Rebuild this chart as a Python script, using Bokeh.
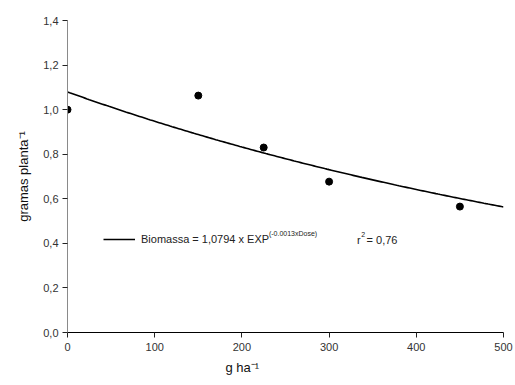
import numpy as np
from bokeh.plotting import figure
from bokeh.models import (LinearAxis, FixedTicker, CustomJSTickFormatter, Label,
                          Legend, LegendItem, Title)
from bokeh.embed import file_html
from bokeh.resources import INLINE

# data
dose = [0, 150, 225, 300, 450]
biomassa = [1.0, 1.063, 0.83, 0.677, 0.565]
coef_a = 1.0794
coef_b = -0.0013
r2_text = "= 0,76"
x_ticks = [0, 100, 200, 300, 400, 500]
y_ticks = [0.0, 0.2, 0.4, 0.6, 0.8, 1.0, 1.2, 1.4]

FONT = "Liberation Sans"

p = figure(width=515, height=385, x_range=(0, 500), y_range=(0, 1.4),
           x_axis_type=None, y_axis_type=None, toolbar_location=None,
           output_backend="svg", min_border_left=67, min_border_right=12,
           min_border_top=20, min_border_bottom=53)
p.outline_line_color = None
p.background_fill_color = "white"
p.border_fill_color = "white"

fmt = CustomJSTickFormatter(code="return tick.toFixed(1).replace('.', ',')")
yaxis = LinearAxis(ticker=FixedTicker(ticks=y_ticks), formatter=fmt,
                   axis_line_color="#8a8a8a", major_tick_line_color="#222",
                   major_tick_out=5, major_tick_in=0, minor_tick_line_color=None,
                   major_label_text_font=FONT, major_label_text_font_size="11px",
                   major_label_text_color="#333", major_label_standoff=4,
                   axis_label="gramas planta\u207b\u00b9", axis_label_text_font=FONT,
                   axis_label_text_font_size="13px", axis_label_text_font_style="normal",
                   axis_label_text_color="#111", axis_label_standoff=9)
p.add_layout(yaxis, "left")

xaxis = LinearAxis(ticker=FixedTicker(ticks=x_ticks),
                   axis_line_color="black", major_tick_line_color="#222",
                   major_tick_out=5, major_tick_in=0, minor_tick_line_color=None,
                   major_label_text_font=FONT, major_label_text_font_size="11px",
                   major_label_text_color="#333", major_label_standoff=5)
p.add_layout(xaxis, "below")

p.add_layout(Title(text="g ha\u207b\u00b9", align="left", offset=158, standoff=8,
                   text_font=FONT, text_font_size="13px", text_font_style="normal",
                   text_color="#111"), "below")

# fitted curve from the displayed equation
xf = np.linspace(0, 500, 201)
yf = coef_a * np.exp(coef_b * xf)
line_r = p.line(xf, yf, line_color="black", line_width=1.6)

pts = p.scatter(dose, biomassa, size=7, color="black")
if "clip" in pts.properties():
    pts.clip = False
if "clip" in line_r.properties():
    line_r.clip = False

legend = Legend(items=[LegendItem(label="Biomassa = 1,0794 x EXP", renderers=[line_r])],
                location=(36, 83), padding=0, margin=0, border_line_color=None,
                background_fill_alpha=0, glyph_width=32, glyph_height=20,
                label_height=20, label_standoff=6, label_text_font=FONT,
                label_text_font_size="11px", label_text_color="#222")
p.add_layout(legend, "center")

sup_kw = dict(text_font=FONT, text_font_size="7px", text_color="#222", text_baseline="middle")
main_kw = dict(text_font=FONT, text_font_size="11px", text_color="#222", text_baseline="middle")
p.add_layout(Label(x=231, y=0.446, text="(-0.0013xDose)", **sup_kw))
p.add_layout(Label(x=332, y=0.417, text="r", **main_kw))
p.add_layout(Label(x=337, y=0.44, text="2", **sup_kw))
p.add_layout(Label(x=343, y=0.417, text=r2_text, **main_kw))

open("out.html", "w").write(file_html(p, INLINE))
